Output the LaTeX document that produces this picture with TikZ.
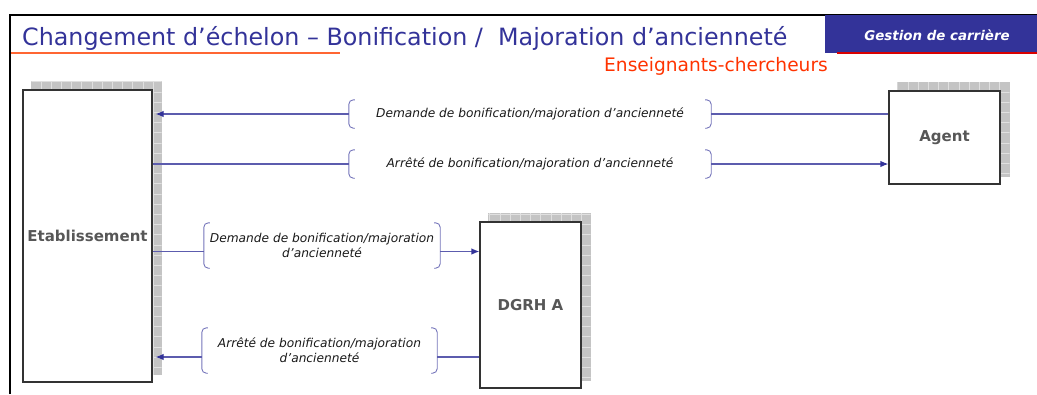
\documentclass[tikz,border=0pt]{standalone}
\usepackage{fontspec}
\setmainfont{DejaVu Sans}
\usetikzlibrary{arrows.meta,backgrounds}

\definecolor{navy}{HTML}{333399}
\definecolor{flame}{HTML}{FF3300}
\definecolor{rule}{HTML}{FF6633}
\definecolor{linkblue}{HTML}{5C5CAE}
\definecolor{bracecol}{HTML}{7474BA}
\definecolor{shadowfill}{HTML}{C4C4C4}
\definecolor{shadowline}{HTML}{E0E0E0}
\definecolor{boxtext}{HTML}{575757}

\tikzset{
  actor/.style={draw=black!80, line width=1.2pt, fill=white, inner sep=0pt,
    font=\fontsize{15}{18}\selectfont\bfseries, text=boxtext},
  msg/.style={inner sep=0pt, align=center, text=black!90,
    font=\fontsize{12.2}{15}\selectfont\itshape},
  bracket/.style={draw=bracecol, line width=0.9pt, rounded corners=4.5pt},
  conn/.style={draw=linkblue, line width=1.2pt},
  toarrow/.style={conn, -{Latex[length=8pt,width=6.5pt,color=navy]}},
  hatch/.style={fill=shadowfill},
}

% rounded square brackets framing a message label
\newcommand\msgbrackets[1]{%
  \draw[bracket] ([xshift=6pt]#1.north west) -- (#1.north west)
    -- (#1.south west) -- ([xshift=6pt]#1.south west);
  \draw[bracket] ([xshift=-6pt]#1.north east) -- (#1.north east)
    -- (#1.south east) -- ([xshift=-6pt]#1.south east);
}

% chequered drop shadow, offset up and to the right
\newcommand\dropshadow[1]{%
  \begin{scope}[on background layer]
    \fill[hatch] ([xshift=9pt,yshift=8pt]#1.south west)
      rectangle ([xshift=9pt,yshift=8pt]#1.north east);
    \begin{scope}
      \clip ([xshift=9pt,yshift=8pt]#1.south west)
        rectangle ([xshift=9pt,yshift=8pt]#1.north east);
      \draw[shadowline, line width=0.6pt, step=10.2pt]
        ([xshift=9pt,yshift=8pt]#1.south west) grid ([xshift=19pt,yshift=18pt]#1.north east);
    \end{scope}
  \end{scope}
}

\begin{document}
\begin{tikzpicture}[x=1pt,y=-1pt]
\useasboundingbox (0,0) rectangle (1037,394);

% page frame and header
\draw[line width=2pt] (10,394) -- (10,15) -- (1037,15);
\node[anchor=base west, inner sep=0pt, text=navy,
      font=\fontsize{23.8}{28}\selectfont] (title) at (22,45)
  {Changement d’échelon – Bonification /\ \ Majoration d’ancienneté};
\draw[rule, line width=1.4pt] (11,53) -- (340,53);
\node[anchor=north west, fill=navy, minimum width=212pt, minimum height=38pt,
      inner sep=0pt] (tag) at (825,15) {};
\node[text=white, inner sep=0pt, anchor=base,
      font=\fontsize{13.4}{16}\selectfont\bfseries\itshape] (tagtext) at (937,40)
  {Gestion de carrière};
\draw[red!85!black, line width=1.2pt] (837,53) -- (1037,53);
\node[anchor=base west, inner sep=0pt, text=flame,
      font=\fontsize{18.6}{22}\selectfont] (sub) at (604,71)
  {Enseignants-chercheurs};

% actors
\node[actor, minimum width=129pt, minimum height=292pt] (etab) at (87.5,236) {Etablissement};
\node[actor, minimum width=111pt, minimum height=93pt] (agent) at (944.5,137.5) {Agent};
\node[actor, minimum width=101pt, minimum height=166pt] (dgrh) at (530.5,305) {DGRH A};
\dropshadow{etab}
\dropshadow{agent}
\dropshadow{dgrh}

% message labels
\node[msg, minimum width=362pt, minimum height=28pt] (m1) at (530,114)
  {Demande de bonification/majoration d’ancienneté};
\node[msg, minimum width=362pt, minimum height=28pt] (m2) at (530,164)
  {Arrêté de bonification/majoration d’ancienneté};
\node[msg, minimum width=236pt, minimum height=45pt] (m3) at (322,245.5)
  {Demande de bonification/majoration\\d’ancienneté};
\node[msg, minimum width=235pt, minimum height=45pt] (m4) at (319.5,350.5)
  {Arrêté de bonification/majoration\\d’ancienneté};
\msgbrackets{m1}
\msgbrackets{m2}
\msgbrackets{m3}
\msgbrackets{m4}

% flows
\draw[conn] (m1.east) -- (m1.east -| agent.west);
\draw[toarrow] (m1.west) -- ([xshift=3pt]m1.west -| etab.east);

\draw[conn] (m2.west) -- (m2.west -| etab.east);
\draw[toarrow] (m2.east) -- (m2.east -| agent.west);

\draw[conn] ([yshift=-6pt]m3.west) -- ([yshift=-6pt]m3.west -| etab.east);
\draw[toarrow] ([yshift=-6pt]m3.east) -- ([yshift=-6pt]m3.east -| dgrh.west);

\draw[conn] ([yshift=-6.5pt]m4.east) -- ([yshift=-6.5pt]m4.east -| dgrh.west);
\draw[toarrow] ([yshift=-6.5pt]m4.west) -- ([xshift=3pt,yshift=-6.5pt]m4.west -| etab.east);
\end{tikzpicture}
\end{document}
